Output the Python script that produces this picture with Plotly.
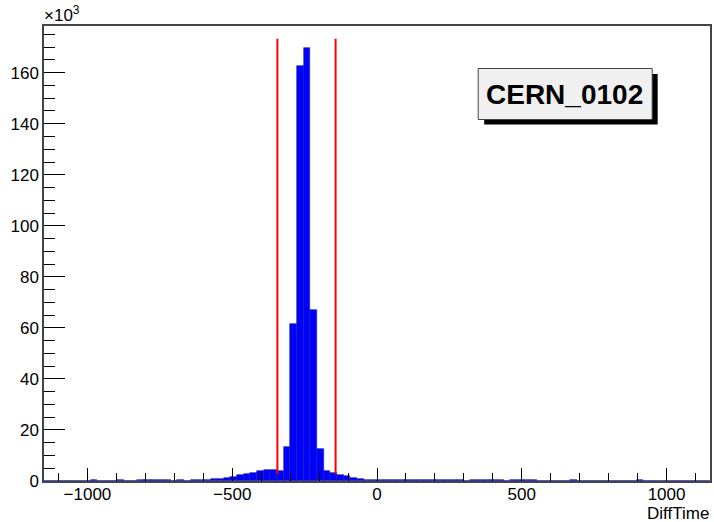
import numpy as np
import plotly.graph_objects as go

# Histogram binning: 100 bins over [-1150, 1150]
x_min, x_max, n_bins = -1150.0, 1150.0, 100
bin_width = (x_max - x_min) / n_bins

# Bin contents (thousands of entries), bin index 0..99
counts = [0.0] * n_bins
sparse_left = {7: 0.4, 11: 0.4, 14: 0.4, 15: 0.4, 16: 0.4, 17: 0.4, 18: 0.4,
               20: 0.4, 22: 0.4, 23: 0.4, 24: 0.5, 25: 0.6, 26: 0.6}
left_shoulder = {27: 1.0, 28: 1.7, 29: 2.3, 30: 2.8, 31: 3.3, 32: 3.8,
                 33: 4.3, 34: 4.5, 35: 4.0}
peak = {36: 13.2, 37: 61.7, 38: 162.6, 39: 169.5, 40: 67.2, 41: 12.4}
right_shoulder = {42: 4.0, 43: 3.0, 44: 2.4, 45: 1.8, 46: 1.2, 47: 0.7,
                  48: 0.5, 49: 0.4}
sparse_right = {50: 0.3, 51: 0.3, 52: 0.3, 53: 0.3, 54: 0.3, 55: 0.3, 56: 0.3,
                57: 0.3, 58: 0.3, 59: 0.3, 60: 0.3, 61: 0.3, 62: 0.3,
                64: 0.3, 65: 0.3, 66: 0.3, 67: 0.3, 68: 0.3,
                70: 0.3, 71: 0.3, 72: 0.3, 73: 0.3, 79: 0.3, 89: 0.3}
for part in (sparse_left, left_shoulder, peak, right_shoulder, sparse_right):
    for k, v in part.items():
        counts[k] = v

bin_centers = [x_min + bin_width * (k + 0.5) for k in range(n_bins)]

# Selection window lines
cut_positions = [-344, -143]
cut_y_range = [2.8, 173.3]

x_tick_vals = [-1000, -500, 0, 500, 1000]
x_tick_text = ["\u22121000", "\u2212500", "0", "500", "1000"]
y_tick_vals = [0, 20, 40, 60, 80, 100, 120, 140, 160]
y_max = 178.3

font_family = "Liberation Sans, Arial, Helvetica, sans-serif"

fig = go.Figure()
fig.add_trace(go.Bar(
    x=bin_centers, y=counts, width=bin_width,
    marker=dict(color="#0000ff", line=dict(width=0.6, color="#1a1aa0")),
    showlegend=False, hoverinfo="x+y",
))

for xc in cut_positions:
    fig.add_trace(go.Scatter(
        x=[xc, xc], y=cut_y_range, mode="lines",
        line=dict(color="#ff0000", width=2), showlegend=False, hoverinfo="skip",
    ))

# Plot-area geometry in pixels (for placing the label box)
W, H = 714, 522
ml, mr, mt, mb = 44, 2, 26, 41
pw, ph = W - ml - mr, H - mt - mb


def px_x(p):
    return (p - ml) / pw


def px_y(p):
    return (H - mb - p) / ph


# Label box with drop shadow
fig.add_shape(type="rect", xref="paper", yref="paper",
              x0=px_x(485.5), x1=px_x(659.5), y0=px_y(124.5), y1=px_y(74),
              fillcolor="#000000", line=dict(width=0), layer="above")
fig.add_shape(type="rect", xref="paper", yref="paper",
              x0=px_x(479.5), x1=px_x(654), y0=px_y(119.5), y1=px_y(68.5),
              fillcolor="#f0f0f0", line=dict(width=1, color="#444444"), layer="above")
fig.add_annotation(xref="paper", yref="paper", x=px_x(566.5), y=px_y(94),
                   text="<b>CERN_0102</b>", showarrow=False,
                   xanchor="center", yanchor="middle",
                   font=dict(family=font_family, size=28, color="#000000"))

# Exponent label and axis title
fig.add_annotation(xref="paper", yref="paper", x=px_x(42), y=px_y(27),
                   text="\u00d710<sup>3</sup>", showarrow=False,
                   xanchor="left", yanchor="bottom",
                   font=dict(family=font_family, size=17, color="#000000"))
fig.add_annotation(xref="paper", yref="paper", x=1.0, y=px_y(513),
                   text="DiffTime", showarrow=False, borderpad=0,
                   xanchor="right", yanchor="middle",
                   font=dict(family=font_family, size=17, color="#000000"))

axis_line = dict(showline=True, linecolor="#444444", linewidth=1.5, mirror=True,
                 showgrid=False, zeroline=False)

fig.update_xaxes(
    range=[x_min, x_max], tickvals=x_tick_vals, ticktext=x_tick_text,
    ticks="inside", ticklen=13, tickwidth=1.2, tickcolor="#000000",
    minor=dict(dtick=100, tick0=0, ticks="inside", ticklen=8, tickwidth=1.2,
               tickcolor="#000000"),
    tickfont=dict(family=font_family, size=17, color="#000000"),
    ticklabelstandoff=-3,
    **axis_line,
)
fig.update_yaxes(
    range=[0, y_max], tickvals=y_tick_vals,
    ticks="inside", ticklen=21, tickwidth=1.2, tickcolor="#000000",
    minor=dict(dtick=5, tick0=0, ticks="inside", ticklen=11, tickwidth=1.2,
               tickcolor="#000000"),
    tickfont=dict(family=font_family, size=17, color="#000000"),
    **axis_line,
)

fig.update_layout(
    width=W, height=H,
    margin=dict(l=ml, r=mr, t=mt, b=mb),
    paper_bgcolor="#ffffff", plot_bgcolor="#ffffff",
    bargap=0, font=dict(family=font_family),
)

fig.write_html("out.html")
